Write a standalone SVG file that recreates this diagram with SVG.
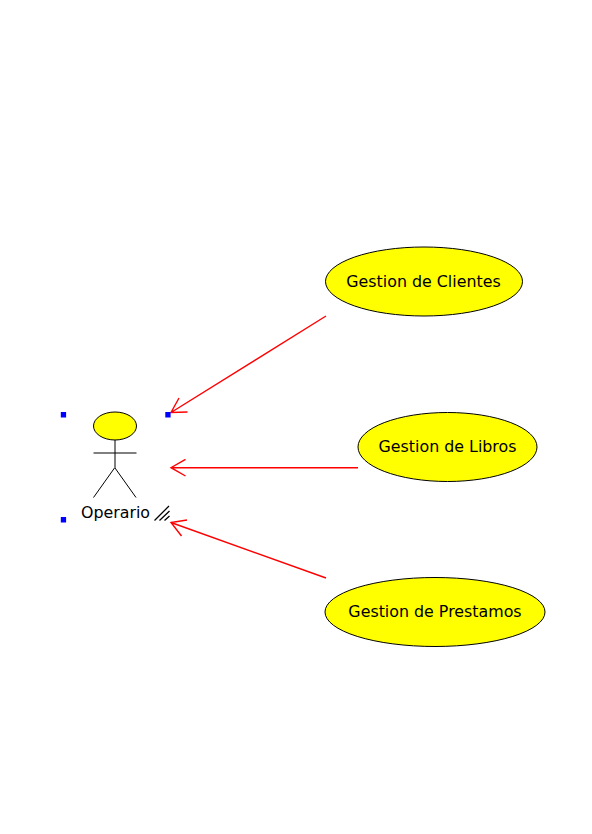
<svg xmlns="http://www.w3.org/2000/svg" width="592" height="834" viewBox="0 0 592 834">
<style>
text{font-family:"DejaVu Sans",sans-serif;font-size:15.85px;fill:#000}
.u{fill:#ff0;stroke:#000;stroke-width:1}
.l{fill:none;stroke:#000;stroke-width:1}
.h{fill:none;stroke:#000;stroke-width:1.3}
.c{fill:none;stroke:#f00;stroke-width:1.4}
.s{fill:#00f}
</style>
<rect width="592" height="834" fill="#fff"/>
<g id="connectors">
<path class="c" d="M326 316L171 412.500M187.500 412L171 412.500L179 398"/>
<path class="c" d="M358 467.700H171M185.500 459.300L171 467.700L185.500 476"/>
<path class="c" d="M326 578L171 522.500M187 520L171 522.500L181.500 536"/>
</g>
<g id="actor-operario">
<ellipse class="u" cx="115" cy="426" rx="21.500" ry="14"/>
<path class="l" d="M115 440V468M93.500 453H136.500M114.500 468L93.500 497.500M115 468L136 497.500"/>
<text x="115.500" y="518" text-anchor="middle">Operario</text>
<path class="h" d="M154.500 520.500L169 506M159.500 520.500L169.500 511M164.500 520.500L169.500 516"/>
<rect class="s" x="60.800" y="412" width="5.300" height="5.500"/>
<rect class="s" x="165.300" y="412" width="5.300" height="5.500"/>
<rect class="s" x="60.800" y="517" width="5.300" height="5.500"/>
</g>
<g id="uc-clientes"><ellipse class="u" cx="424" cy="281.500" rx="98.500" ry="34.500"/><text x="423.500" y="287" text-anchor="middle">Gestion de Clientes</text></g>
<g id="uc-libros"><ellipse class="u" cx="447.500" cy="447" rx="89.500" ry="34.500"/><text x="447.500" y="452" text-anchor="middle">Gestion de Libros</text></g>
<g id="uc-prestamos"><ellipse class="u" cx="435" cy="612" rx="110" ry="34.500"/><text x="435" y="617" text-anchor="middle">Gestion de Prestamos</text></g>
</svg>
